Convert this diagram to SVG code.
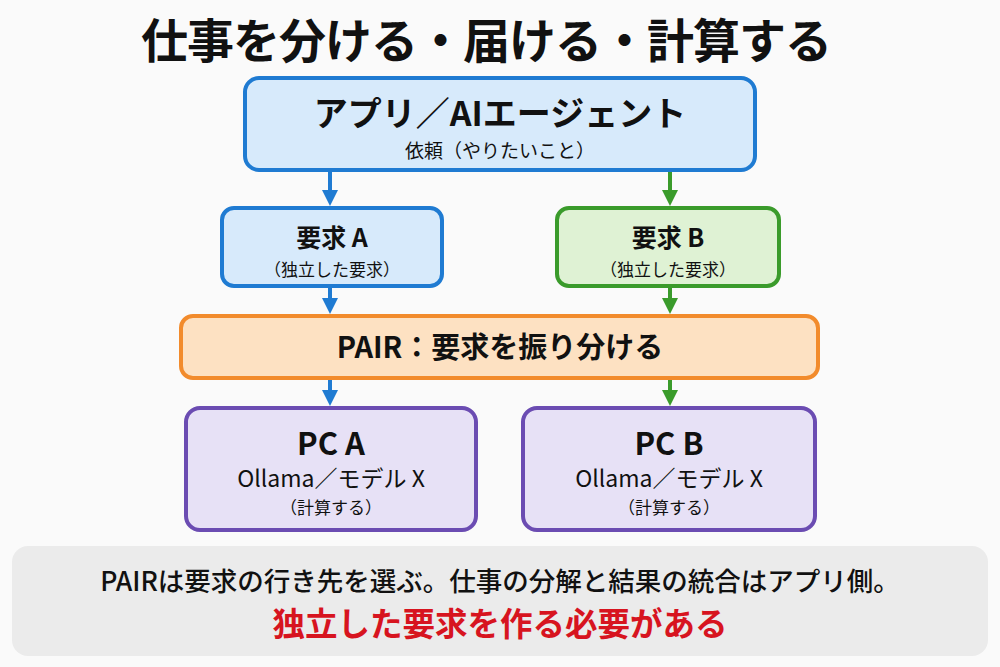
<svg xmlns="http://www.w3.org/2000/svg" width="1000" height="667" viewBox="0 0 1000 667">
<style>
text{font-family:"Noto Sans CJK JP","Noto Sans",sans-serif;text-anchor:middle;fill:#111}
.b{font-weight:bold}
.blue{fill:#d7eafb;stroke:#1f7bd2;stroke-width:4}
.green{fill:#dff2d4;stroke:#3a9b2b;stroke-width:4}
.orange{fill:#fde1c2;stroke:#f28b2c;stroke-width:4}
.purple{fill:#e7e1f6;stroke:#6b4cb2;stroke-width:4}
.ab{stroke:#1f7bd2;stroke-width:4;fill:none}
.ag{stroke:#3a9b2b;stroke-width:4;fill:none}
</style>
<defs>
<marker id="mb" viewBox="0 0 10 10" refX="5" refY="5" markerWidth="4" markerHeight="4" orient="auto"><path d="M0,0L10,5L0,10z" fill="#1f7bd2"/></marker>
<marker id="mg" viewBox="0 0 10 10" refX="5" refY="5" markerWidth="4" markerHeight="4" orient="auto"><path d="M0,0L10,5L0,10z" fill="#3a9b2b"/></marker>
</defs>
<rect width="1000" height="667" fill="#fafafa"/>
<text x="486" y="58" class="b" font-size="47" letter-spacing="-1">仕事を分ける・届ける・計算する</text>
<g id="connectors">
<path class="ab" d="M330,172V198" marker-end="url(#mb)"/>
<path class="ag" d="M670,172V198" marker-end="url(#mg)"/>
<path class="ab" d="M330,288V306" marker-end="url(#mb)"/>
<path class="ag" d="M670,288V306" marker-end="url(#mg)"/>
<path class="ab" d="M330,380V398" marker-end="url(#mb)"/>
<path class="ag" d="M670,380V398" marker-end="url(#mg)"/>
</g>
<g id="app"><rect class="blue" x="245" y="78" width="510" height="92" rx="14"/>
<text x="500" y="126" class="b" font-size="34">アプリ／AIエージェント</text>
<text x="500" y="158" font-size="19">依頼（やりたいこと）</text></g>
<g id="reqA"><rect class="blue" x="222" y="208" width="220" height="78" rx="12"/>
<text x="332" y="247" class="b" font-size="25">要求 A</text>
<text x="332" y="276" font-size="17">（独立した要求）</text></g>
<g id="reqB"><rect class="green" x="557" y="208" width="222" height="78" rx="12"/>
<text x="668" y="247" class="b" font-size="25">要求 B</text>
<text x="668" y="276" font-size="17">（独立した要求）</text></g>
<g id="pair"><rect class="orange" x="181" y="316" width="637" height="62" rx="12"/>
<text x="500" y="358" class="b" font-size="29">PAIR：要求を振り分ける</text></g>
<g id="pcA"><rect class="purple" x="186" y="408" width="290" height="122" rx="14"/>
<text x="331" y="455" class="b" font-size="31">PC A</text>
<text x="331" y="487" font-size="23">Ollama／モデル X</text>
<text x="331" y="514" font-size="17">（計算する）</text></g>
<g id="pcB"><rect class="purple" x="523" y="408" width="292" height="122" rx="14"/>
<text x="669" y="455" class="b" font-size="31">PC B</text>
<text x="669" y="487" font-size="23">Ollama／モデル X</text>
<text x="669" y="514" font-size="17">（計算する）</text></g>
<g id="note"><rect x="12" y="546" width="976" height="110" rx="16" fill="#ebebeb"/>
<text x="500" y="591" font-size="26.5" font-weight="500">PAIRは要求の行き先を選ぶ。仕事の分解と結果の統合はアプリ側。</text>
<text x="500" y="636" class="b" font-size="32.5" style="fill:#d7141f">独立した要求を作る必要がある</text></g>
</svg>
